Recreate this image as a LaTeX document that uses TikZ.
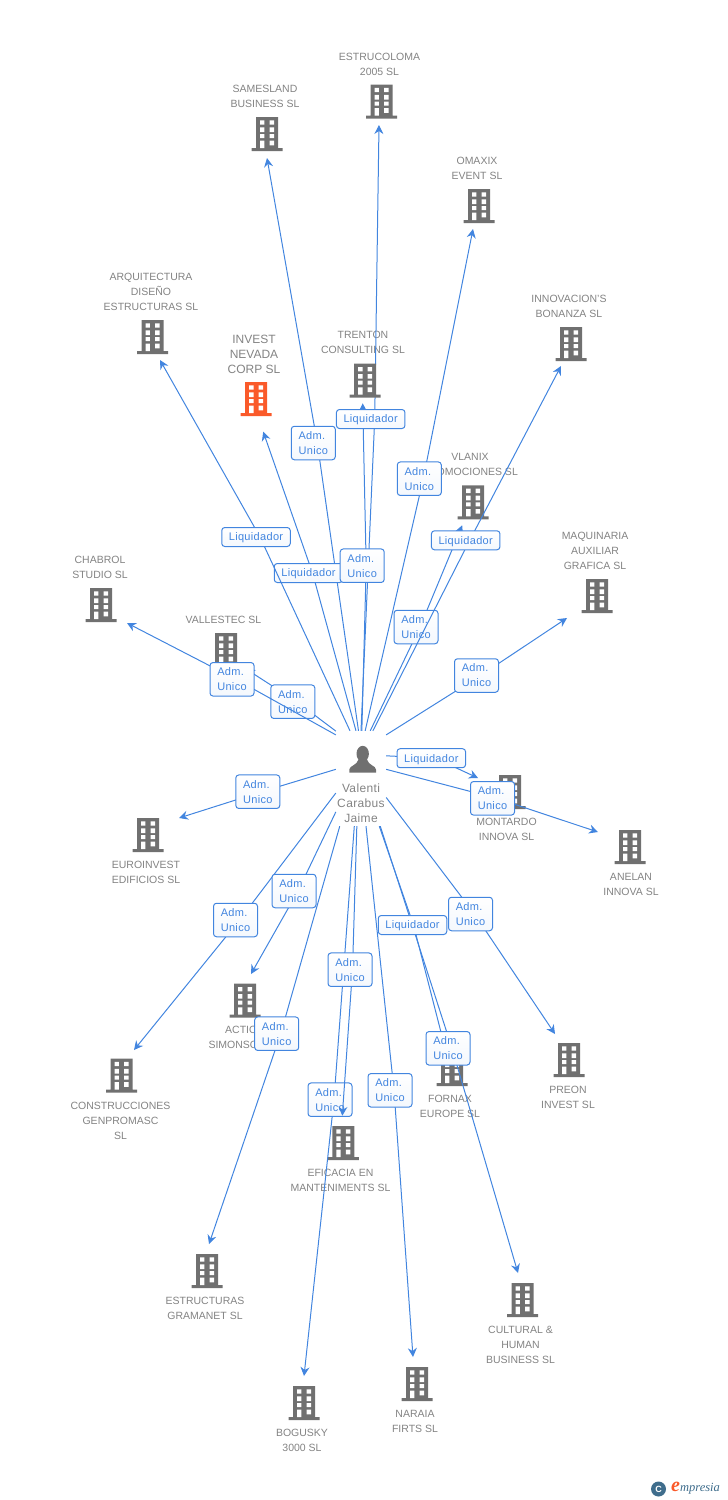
\documentclass[tikz,border=0pt]{standalone}
\usepackage{fontspec}
\setmainfont{Liberation Sans}
\newfontfamily\etiquetafont{Liberation Sans}[LetterSpace=3]
\newfontfamily\logofont{Liberation Serif}
\usetikzlibrary{arrows.meta,calc}
\definecolor{azul}{HTML}{4285DF}
\definecolor{gristexto}{HTML}{838383}
\definecolor{grisicono}{HTML}{707070}
\definecolor{naranja}{HTML}{FA5A2A}
\definecolor{logoazul}{HTML}{3F6D8C}
\tikzset{
>={Stealth[length=9pt,width=9pt,inset=3pt]},
flecha/.style={->,azul,line width=1pt},
etiqueta/.style={draw=azul,line width=1pt,rounded corners=3pt,top color=white,bottom color=azul!6,text=azul,inner sep=0pt,xshift=-4pt,font=\etiquetafont\fontsize{11}{15}\selectfont},
adm/.style={etiqueta,minimum width=44pt,minimum height=33.5pt,align=left},
liquidador/.style={etiqueta,minimum width=68.5pt,minimum height=19pt,text depth=0pt},
rotulo/.style={align=center,inner sep=0pt,text=gristexto,font=\fontsize{10.5}{15}\selectfont},
edificio/.style={minimum width=31pt,minimum height=34pt,inner sep=0pt,
	path picture={\begin{scope}[shift={(path picture bounding box.center)}]
	\fill[#1] (-11,-17) rectangle (11,15) (-15.5,14) rectangle (15.5,17);
	\fill[white] (-7,-13.7) rectangle (-2.7,-9.3) (2.5,-13.7) rectangle (7,-9.3)
		(-7,-6.7) rectangle (-2.7,-2) (2.5,-6.7) rectangle (7,-2)
		(-7,0) rectangle (-2.7,4) (2.5,0) rectangle (7,4)
		(-7,6.7) rectangle (-2.7,14) (2.5,6.7) rectangle (7,11.3);
	\end{scope}}},
edificio/.default=grisicono,
persona/.style={minimum width=50pt,minimum height=95pt,inner sep=0pt,
	path picture={\begin{scope}[shift={(path picture bounding box.center)}]
	\fill[grisicono] (1.7,-24.7) ellipse (6.2 and 8);
	\fill[grisicono] (-11.7,-5.8) -- (-11.7,-9) .. controls (-11.5,-13) and (-4,-13) .. (-2.5,-19) -- (6,-19)
		.. controls (7.5,-13) and (14.8,-13) .. (15,-9) -- (15,-5.8) -- cycle;
	\end{scope}}}}

\begin{document}
\begin{tikzpicture}[x=1pt,y=-1pt]

\useasboundingbox (0,0) rectangle (728,1500);

\node[persona] (valenti) at (361,778.5) {};
\node[rotulo,font=\etiquetafont\fontsize{12}{15}\selectfont] (tvalenti) at (361,803) {Valenti\\Carabus\\Jaime};

\node[edificio] (estrucoloma) at (381.5,101.5) {};
\node[edificio] (samesland) at (267,134) {};
\node[edificio] (omaxix) at (479,206) {};
\node[edificio] (innovacion) at (571,344) {};
\node[edificio] (arquitectura) at (152.5,337) {};
\node[edificio=naranja] (invest) at (256.2,399) {};
\node[edificio] (vlanix) at (473.2,502.3) {};
\node[edificio] (maquinaria) at (597,596) {};
\node[edificio] (chabrol) at (101,605) {};
\node[edificio] (vallestec) at (226,650) {};
\node[edificio] (montardo) at (510,792) {};
\node[edificio] (anelan) at (630,847) {};
\node[edificio] (euroinvest) at (148,835) {};
\node[edificio] (action) at (245,1000.7) {};
\node[edificio] (construcciones) at (121.5,1075.5) {};
\node[edificio] (preon) at (569,1060) {};
\node[edificio] (fornax) at (452,1069) {};
\node[edificio] (eficacia) at (343.3,1143) {};
\node[edificio] (estructuras) at (207,1271) {};
\node[edificio] (cultural) at (522.5,1300) {};
\node[edificio] (bogusky) at (304,1403) {};
\node[edificio] (naraia) at (417,1384) {};

\node[rotulo] (testrucoloma) at (379.5,64.5) {ESTRUCOLOMA\\2005 SL};
\node[rotulo] (tsamesland) at (265,96.5) {SAMESLAND\\BUSINESS SL};
\node[rotulo] (tomaxix) at (477,168.5) {OMAXIX\\EVENT SL};
\node[rotulo] (tinnovacion) at (569,306.5) {INNOVACION'S\\BONANZA SL};
\node[rotulo] (tarquitectura) at (151,292) {ARQUITECTURA\\DISEÑO\\ESTRUCTURAS SL};
\node[rotulo,font=\fontsize{12}{15}\selectfont] (tinvest) at (254,354) {INVEST\\NEVADA\\CORP SL};
\node[rotulo] (ttrenton) at (363,342.5) {TRENTON\\CONSULTING SL};
\node[rotulo] (tvlanix) at (470,464.5) {VLANIX\\PROMOCIONES SL};
\node[rotulo] (tmaquinaria) at (595,551) {MAQUINARIA\\AUXILIAR\\GRAFICA SL};
\node[rotulo] (tchabrol) at (100,567.5) {CHABROL\\STUDIO SL};
\node[rotulo] (tvallestec) at (223.5,620) {VALLESTEC SL};
\node[rotulo] (tmontardo) at (506.5,829.5) {MONTARDO\\INNOVA SL};
\node[rotulo] (tanelan) at (631,884.5) {ANELAN\\INNOVA SL};
\node[rotulo] (teuroinvest) at (146,872.5) {EUROINVEST\\EDIFICIOS SL};
\node[rotulo] (taction) at (245,1037.5) {ACTION\\SIMONSON SL};
\node[rotulo] (tconstrucciones) at (120.5,1121) {CONSTRUCCIONES\\GENPROMASC\\SL};
\node[rotulo] (tpreon) at (568,1097.5) {PREON\\INVEST SL};
\node[rotulo] (tfornax) at (450,1106.5) {FORNAX\\EUROPE SL};
\node[rotulo] (teficacia) at (340.5,1180.5) {EFICACIA EN\\MANTENIMENTS SL};
\node[rotulo] (testructuras) at (205,1308.5) {ESTRUCTURAS\\GRAMANET SL};
\node[rotulo] (tcultural) at (520.5,1345) {CULTURAL \&\\HUMAN\\BUSINESS SL};
\node[rotulo] (tbogusky) at (302,1440.5) {BOGUSKY\\3000 SL};
\node[rotulo] (tnaraia) at (415,1421.5) {NARAIA\\FIRTS SL};

\draw[flecha] (valenti.93.6) -- (317.3,443) node[adm] (esamesland) {Adm.\\Unico} -- ($(samesland)+(0,24)$);
\draw[flecha] (valenti.96.4) -- (312.5,573) node[liquidador] (einvest) {Liquidador} -- ($(invest)+(7,32.7)$);
\draw[flecha] (valenti.103) -- (260,537) node[liquidador] (earquitectura) {Liquidador} -- ($(arquitectura)+(7.5,23)$);
\draw[flecha] (valenti.90) -- (374.7,419) -- ($(estrucoloma)+(-2.5,23.5)$);

\node[edificio] (trenton) at (365.2,380.7) {};
\draw[flecha] (valenti.89) -- (366.2,565.7) node[adm] (etrenton) {Adm.\\Unico} -- ($(trenton)+(-2.5,22.6)$);
\node[liquidador] (eestrucoloma) at (374.7,419) {Liquidador};

\draw[flecha] (valenti.85) -- (423.3,478.7) node[adm] (eomaxix) {Adm.\\Unico} -- ($(omaxix)+(-6,23)$);
\draw[flecha] (valenti.79) -- (420,627) node[adm] (evlanix) {Adm.\\Unico} -- ($(vlanix)+(-11,23)$);
\draw[flecha] (valenti.76) -- (469.7,540.3) node[liquidador] (einnovacion) {Liquidador} -- ($(innovacion)+(-10,22)$);
\draw[flecha] (valenti.60.1) -- (480.5,675.5) node[adm] (emaquinaria) {Adm.\\Unico} -- ($(maquinaria)+(-30,22)$);
\draw[flecha] (valenti.118) -- (296.8,701.7) node[adm] (evallestec) {Adm.\\Unico} -- ($(vallestec)+(20,19)$);
\draw[flecha] (valenti.120.9) -- (236,679.3) node[adm] (echabrol) {Adm.\\Unico} -- ($(chabrol)+(26,18)$);
\draw[flecha] (valenti.42.4) -- (435.3,758.2) node[liquidador] (emontardo) {Liquidador} -- ($(montardo)+(-32,-14)$);
\draw[flecha] (valenti.20.8) -- (496.5,798.3) node[adm] (eanelan) {Adm.\\Unico} -- ($(anelan)+(-32,-15)$);
\draw[flecha] (valenti.160) -- (261.8,791.7) node[adm] (eeuroinvest) {Adm.\\Unico} -- ($(euroinvest)+(31,-17)$);
\draw[flecha] (valenti.210.6) -- (239.5,920) node[adm] (econstrucciones) {Adm.\\Unico} -- ($(construcciones)+(12.5,-25.5)$);
\draw[flecha] (valenti.233) -- (298,891) node[adm] (eaction) {Adm.\\Unico} -- ($(action)+(6,-26.7)$);
\draw[flecha] (valenti.246) -- (280.7,1033.7) node[adm] (eestructuras) {Adm.\\Unico} -- ($(estructuras)+(2,-27)$);
\draw[flecha] (valenti.262.8) -- (334,1099.7) node[adm] (ebogusky) {Adm.\\Unico} -- ($(bogusky)+(0,-27)$);
\draw[flecha] (valenti.265.5) -- (352.5,969.7) node[adm,xshift=1.5pt] (eeficacia) {Adm.\\Unico} -- ($(eficacia)+(-1,-27.3)$);
\draw[flecha] (valenti.276) -- (394,1090.3) node[adm] (enaraia) {Adm.\\Unico} -- ($(naraia)+(-4,-27)$);
\draw[flecha] (valenti.292.8) -- (452,1048.3) -- ($(cultural)+(-4.5,-27)$);
\draw[flecha] (valenti.291.8) -- (413.5,925) node[liquidador,xshift=3pt] (efornax) {Liquidador} -- ($(fornax)+(-8.5,-27)$);
\node[adm] (ecultural) at (452,1048.3) {Adm.\\Unico};
\draw[flecha] (valenti.-37) -- (474.5,914) node[adm] (epreon) {Adm.\\Unico} -- ($(preon)+(-14,-26)$);

\node[circle,fill=logoazul,text=white,minimum size=15pt,inner sep=0pt,font=\bfseries\fontsize{9}{9}\selectfont] (logoc) at (658.5,1489) {C};
\node[inner sep=0pt,anchor=west] (logot) at (671,1488) {\logofont\itshape{\color{naranja}\bfseries\fontsize{20}{20}\selectfont e}{\color{logoazul}\fontsize{12.5}{12}\selectfont mpresia}};
\end{tikzpicture}
\end{document}
